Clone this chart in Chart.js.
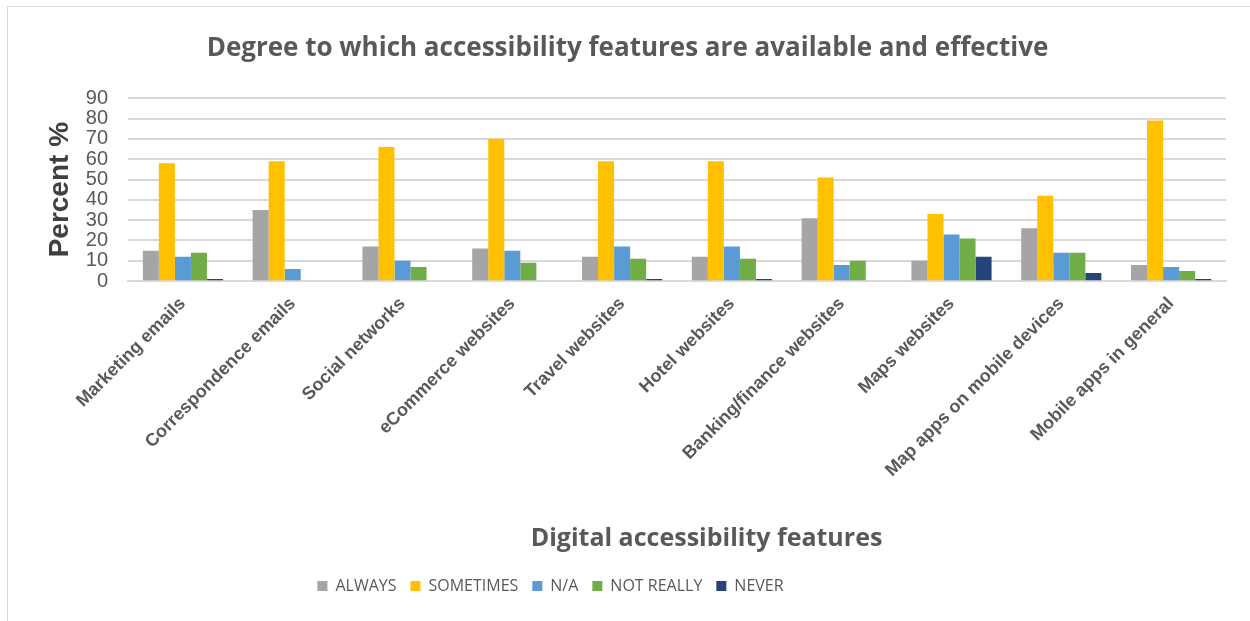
<!DOCTYPE html>
<html>
<head>
  <title>Accessibility features</title>
  <script src="https://cdn.jsdelivr.net/npm/chart.js"></script>
  <style>
    html, body {
        margin: 0;
        padding: 0;
        background: #ffffff;
    }
    .frame {
        position: absolute;
        left: 7px;
        top: 6px;
        width: 1250px;
        height: 640px;
        border: 1px solid #d9d9d9;
        box-sizing: border-box;
    }
    .chart-box {
        position: absolute;
        left: 0;
        top: 0;
        width: 1250px;
        height: 621px;
    }
  </style>
</head>
<body>
<div class="frame"></div>
<div class="chart-box">
  <canvas id="featuresChart"></canvas>
</div>

<script>
  // Survey answers, percent per feature
  const features = [
      'Marketing emails', 'Correspondence emails', 'Social networks', 'eCommerce websites',
      'Travel websites', 'Hotel websites', 'Banking/finance websites', 'Maps websites',
      'Map apps on mobile devices', 'Mobile apps in general'
  ];
  const always    = [15, 35, 17, 16, 12, 12, 31, 10, 26, 8];
  const sometimes = [58, 59, 66, 70, 59, 59, 51, 33, 42, 79];
  const notApplic = [12, 6, 10, 15, 17, 17, 8, 23, 14, 7];
  const notReally = [14, 0, 7, 9, 11, 11, 10, 21, 14, 5];
  const never     = [1, 0, 0, 0, 1, 1, 0, 12, 4, 1];
  const yTicks    = [0, 10, 20, 30, 40, 50, 60, 70, 80, 90];

  const grey = '#595959';
  const xTitle = 'Digital accessibility features';

  // legend and the x title sit off-centre like in the original workbook
  const nudgeBottom = {
      id: 'nudgeBottom',
      afterLayout(chart) {
          chart.legend.left -= 154;
          chart.boxes
              .filter(b => b.options && b.options.text === xTitle)
              .forEach(b => { b.left += 158; });
      }
  };

  new Chart(document.getElementById('featuresChart'), {
      type: 'bar',
      data: {
          labels: features,
          datasets: [
              { label: 'ALWAYS', data: always, backgroundColor: '#A5A5A5' },
              { label: 'SOMETIMES', data: sometimes, backgroundColor: '#FFC000' },
              { label: 'N/A', data: notApplic, backgroundColor: '#5B9BD5' },
              { label: 'NOT REALLY', data: notReally, backgroundColor: '#70AD47' },
              { label: 'NEVER', data: never, backgroundColor: '#264478' }
          ]
      },
      plugins: [nudgeBottom],
      options: {
          responsive: true,
          maintainAspectRatio: false,
          animation: false,
          layout: { padding: { left: 29, right: 24, top: 10, bottom: 17 } },
          datasets: {
              bar: { categoryPercentage: 0.73, barPercentage: 1.0 }
          },
          plugins: {
              title: {
                  display: true,
                  text: 'Degree to which accessibility features are available and effective',
                  color: grey,
                  font: { family: 'Open Sans', size: 26, weight: 'bold' },
                  padding: { top: 23, bottom: 34 }
              },
              subtitle: {
                  display: true,
                  position: 'bottom',
                  weight: 500,
                  text: xTitle,
                  color: grey,
                  font: { family: 'Open Sans', size: 25, weight: 'bold' },
                  padding: { top: 39, bottom: 10 }
              },
              legend: {
                  position: 'bottom',
                  labels: {
                      color: grey,
                      boxWidth: 10,
                      boxHeight: 10,
                      padding: 14,
                      font: { family: 'Open Sans', size: 16 }
                  }
              },
              tooltip: { enabled: false }
          },
          scales: {
              x: {
                  // first slanted label may run into the left margin
                  afterFit: scale => { scale.paddingLeft = 0; },
                  grid: { display: false },
                  border: { color: '#d9d9d9', width: 2 },
                  ticks: {
                      color: grey,
                      minRotation: 45,
                      maxRotation: 45,
                      padding: 4,
                      font: { family: 'Liberation Sans', size: 18, weight: 'bold' }
                  }
              },
              y: {
                  min: 0,
                  max: 90,
                  afterBuildTicks: axis => {
                      axis.ticks = yTicks.map(v => ({ value: v }));
                  },
                  afterFit: scale => { scale.width = 99; },
                  grid: { color: '#d9d9d9', lineWidth: 2, drawTicks: false },
                  border: { display: false },
                  ticks: {
                      color: grey,
                      padding: 20,
                      autoSkip: false,
                      font: { family: 'Liberation Sans', size: 20 }
                  },
                  title: {
                      display: true,
                      text: 'Percent %',
                      color: '#404040',
                      font: { family: 'Liberation Sans', size: 28, weight: 'bold' },
                      padding: { top: 14, bottom: 0 }
                  }
              }
          }
      }
  });
</script>
</body>
</html>
